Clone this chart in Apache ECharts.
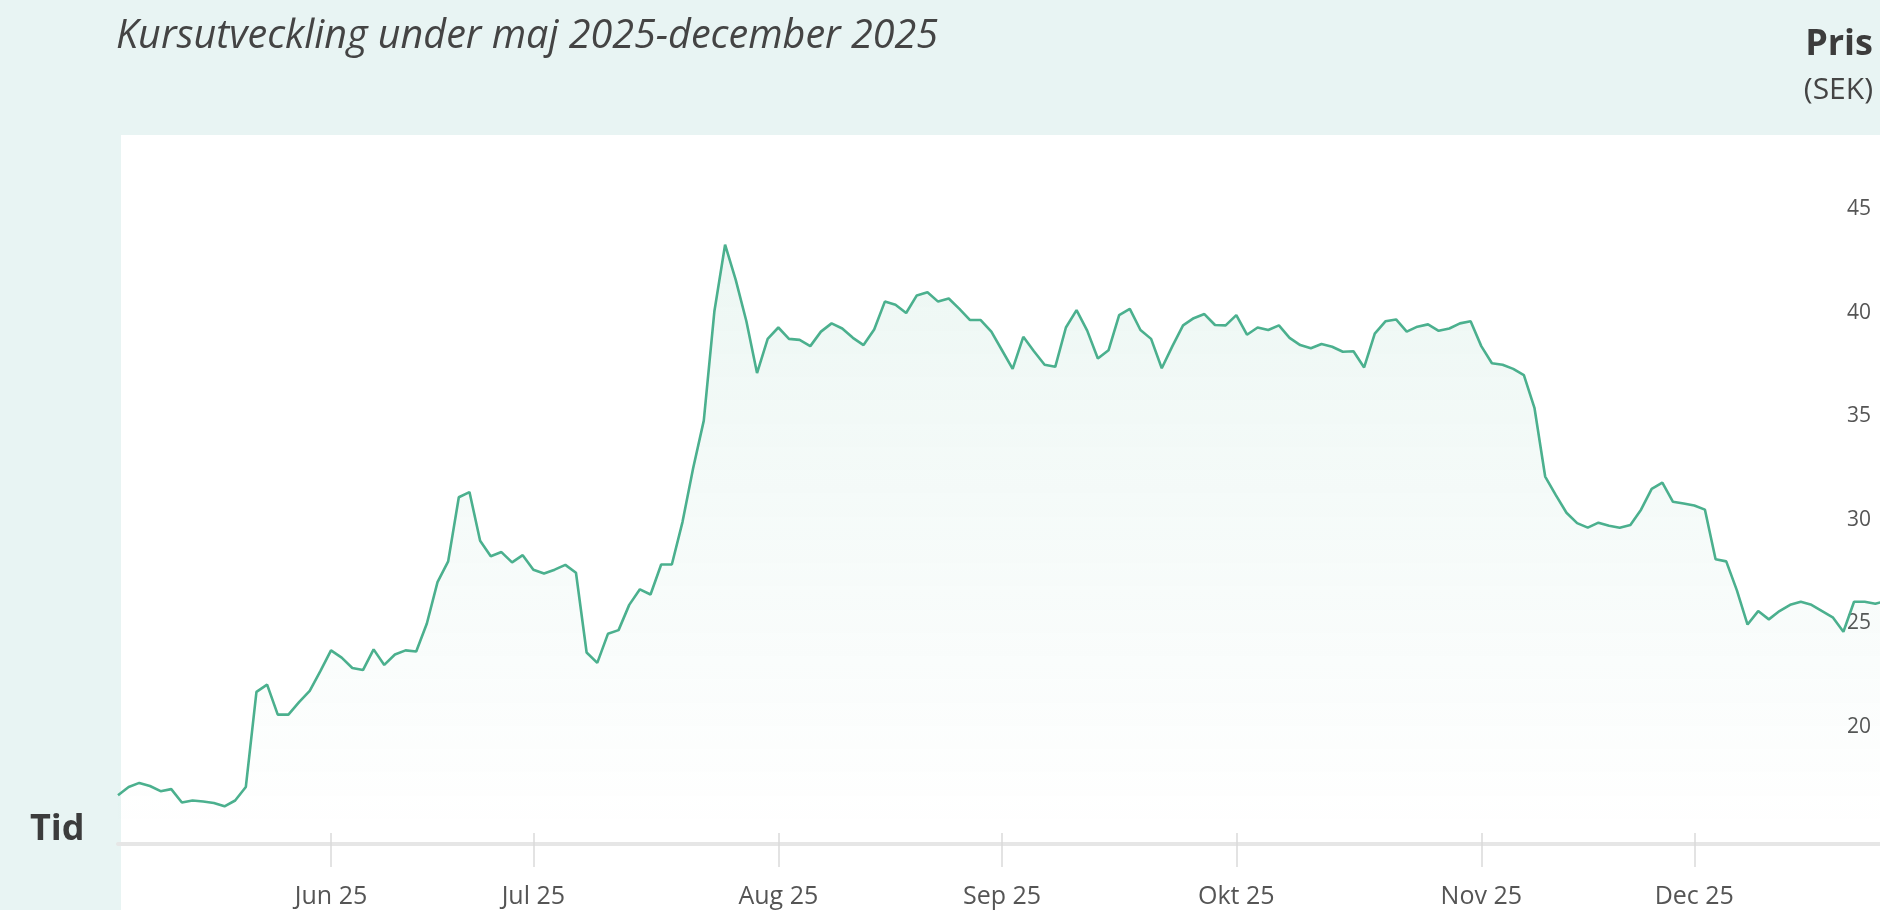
<!DOCTYPE html>
<html>
<head>
<meta charset="utf-8">
<script src="https://cdn.jsdelivr.net/npm/echarts/dist/echarts.min.js"></script>
<style>
  html, body { margin: 0; padding: 0; background: #e8f4f3; }
  #panel { position: absolute; left: 121px; top: 135px; width: 1759px; height: 775px; background: #ffffff; }
  #chart { position: absolute; left: 0; top: 0; width: 1880px; height: 910px; }
</style>
</head>
<body>
<div id="panel"></div>
<div id="chart"></div>
<script>
// ---- Data ----
const startDate = '2025-05-02';
const endDate = '2025-12-30';
const holidays = ['2025-05-29', '2025-06-06', '2025-06-20', '2025-12-24', '2025-12-25', '2025-12-26'];

const tickDates = ['2025-06-02', '2025-07-01', '2025-08-01', '2025-09-01', '2025-10-01', '2025-11-03', '2025-12-01'];
const tickLabels = ['Jun 25', 'Jul 25', 'Aug 25', 'Sep 25', 'Okt 25', 'Nov 25', 'Dec 25'];

const pricesMay = [16.7, 17.1, 17.3, 17.15, 16.9, 17.0, 16.35, 16.45, 16.4, 16.33, 16.17, 16.45, 17.1, 21.7, 22.05, 20.6, 20.6, 21.2, 21.75, 22.7];
const pricesJun = [23.7, 23.35, 22.85, 22.75, 23.75, 23.0, 23.5, 23.7, 23.65, 25.0, 27.0, 28.0, 31.1, 31.35, 29.0, 28.25, 28.45, 27.95, 28.3];
const pricesJul = [27.6, 27.42, 27.6, 27.83, 27.45, 23.6, 23.1, 24.5, 24.68, 25.9, 26.65, 26.4, 27.85, 27.85, 29.9, 32.5, 34.8, 40.1, 43.3, 41.6, 39.6, 37.1, 38.75];
const pricesAug = [39.3, 38.75, 38.7, 38.4, 39.1, 39.5, 39.25, 38.8, 38.45, 39.2, 40.55, 40.4, 40.0, 40.85, 41.0, 40.55, 40.7, 40.2, 39.66, 39.66, 39.1];
const pricesSep = [38.2, 37.3, 38.85, 38.15, 37.5, 37.4, 39.3, 40.14, 39.15, 37.8, 38.2, 39.9, 40.2, 39.18, 38.75, 37.33, 38.4, 39.4, 39.75, 39.95, 39.42, 39.4];
const pricesOct = [39.9, 38.95, 39.3, 39.18, 39.4, 38.8, 38.45, 38.3, 38.5, 38.37, 38.13, 38.15, 37.37, 39.0, 39.6, 39.69, 39.1, 39.34, 39.45, 39.14, 39.25, 39.5, 39.6];
const pricesNov = [38.4, 37.57, 37.5, 37.3, 37.0, 35.4, 32.1, 31.2, 30.35, 29.85, 29.63, 29.87, 29.72, 29.63, 29.76, 30.5, 31.5, 31.8, 30.88, 30.8];
const pricesDec = [30.7, 30.5, 28.1, 28.0, 26.6, 24.95, 25.6, 25.2, 25.6, 25.9, 26.05, 25.9, 25.6, 25.3, 24.6, 26.05, 26.05, 25.95, 26.1];

const yTicks = { min: 15, max: 50, interval: 5 };

// ---- Build ----
function tradingDays(start, end, closed) {
  const out = [];
  const d = new Date(start + 'T00:00:00Z');
  const e = new Date(end + 'T00:00:00Z');
  while (d <= e) {
    const wd = d.getUTCDay();
    const s = d.toISOString().slice(0, 10);
    if (wd !== 0 && wd !== 6 && closed.indexOf(s) < 0) out.push(s);
    d.setUTCDate(d.getUTCDate() + 1);
  }
  return out;
}
const categories = tradingDays(startDate, endDate, holidays);
const prices = [].concat(pricesMay, pricesJun, pricesJul, pricesAug, pricesSep, pricesOct, pricesNov, pricesDec);

const tickIdx = {};
tickDates.forEach((t, k) => { tickIdx[t] = tickLabels[k]; });
const isTick = (index, value) => tickIdx[value] !== undefined;

const chart = echarts.init(document.getElementById('chart'), null, { renderer: 'canvas' });

const lineColor = '#4bb08e';
const fontFam = '"Open Sans", "DejaVu Sans", sans-serif';

chart.setOption({
  animation: false,
  backgroundColor: 'transparent',
  grid: { left: 118, right: -6, top: 106, bottom: 79.5, containLabel: false, outerBoundsMode: 'none' },
  xAxis: [
    {
      type: 'category',
      data: categories,
      boundaryGap: false,
      position: 'bottom',
      offset: 13.5,
      axisLine: { show: true, lineStyle: { color: '#e6e6e6', width: 4 } },
      axisTick: { show: true, interval: isTick, length: 23, lineStyle: { color: '#dadada', width: 1.5 } },
      axisLabel: {
        show: true, interval: isTick, margin: 40,
        formatter: (v) => tickIdx[v] || '',
        fontSize: 25, color: '#555', fontFamily: fontFam
      },
      splitLine: { show: false }
    },
    {
      type: 'category',
      data: categories,
      boundaryGap: false,
      position: 'bottom',
      offset: 13.5,
      axisLine: { show: false },
      axisTick: { show: true, inside: true, interval: isTick, length: 11, lineStyle: { color: '#dadada', width: 1.5 } },
      axisLabel: { show: false },
      splitLine: { show: false }
    }
  ],
  yAxis: {
    type: 'value',
    position: 'right',
    min: yTicks.min, max: yTicks.max, interval: yTicks.interval,
    axisLine: { show: false },
    axisTick: { show: false },
    splitLine: { show: false },
    axisLabel: {
      inside: true, margin: 15, fontSize: 21, color: '#555', fontFamily: fontFam,
      showMinLabel: false, showMaxLabel: false
    }
  },
  series: [{
    type: 'line',
    xAxisIndex: 0,
    data: prices,
    symbol: 'none',
    smooth: false,
    lineStyle: { color: lineColor, width: 2.6 },
    itemStyle: { color: lineColor },
    areaStyle: {
      color: new echarts.graphic.LinearGradient(0, 0, 0, 1, [
        { offset: 0, color: 'rgba(72,174,140,0.14)' },
        { offset: 1, color: 'rgba(72,174,140,0)' }
      ])
    }
  }],
  graphic: [
    { type: 'text', style: { text: 'Kursutveckling under maj 2025-december 2025', x: 116, y: 37, fontSize: 39.5, fontStyle: 'italic', fontFamily: fontFam, fill: '#444', textAlign: 'left', textVerticalAlign: 'middle', verticalAlign: 'middle' } },
    { type: 'text', style: { text: 'Pris', x: 1873, y: 45, fontSize: 36, fontWeight: 'bold', fontFamily: fontFam, fill: '#3c3c3c', textAlign: 'right', align: 'right', textVerticalAlign: 'middle', verticalAlign: 'middle' } },
    { type: 'text', style: { text: '(SEK)', x: 1873, y: 90, fontSize: 30, fontFamily: fontFam, fill: '#444', textAlign: 'right', align: 'right', textVerticalAlign: 'middle', verticalAlign: 'middle' } },
    { type: 'text', style: { text: 'Tid', x: 30, y: 830, fontSize: 36, fontWeight: 'bold', fontFamily: fontFam, fill: '#3c3c3c', textAlign: 'left', textVerticalAlign: 'middle', verticalAlign: 'middle' } }
  ]
});
</script>
</body>
</html>
